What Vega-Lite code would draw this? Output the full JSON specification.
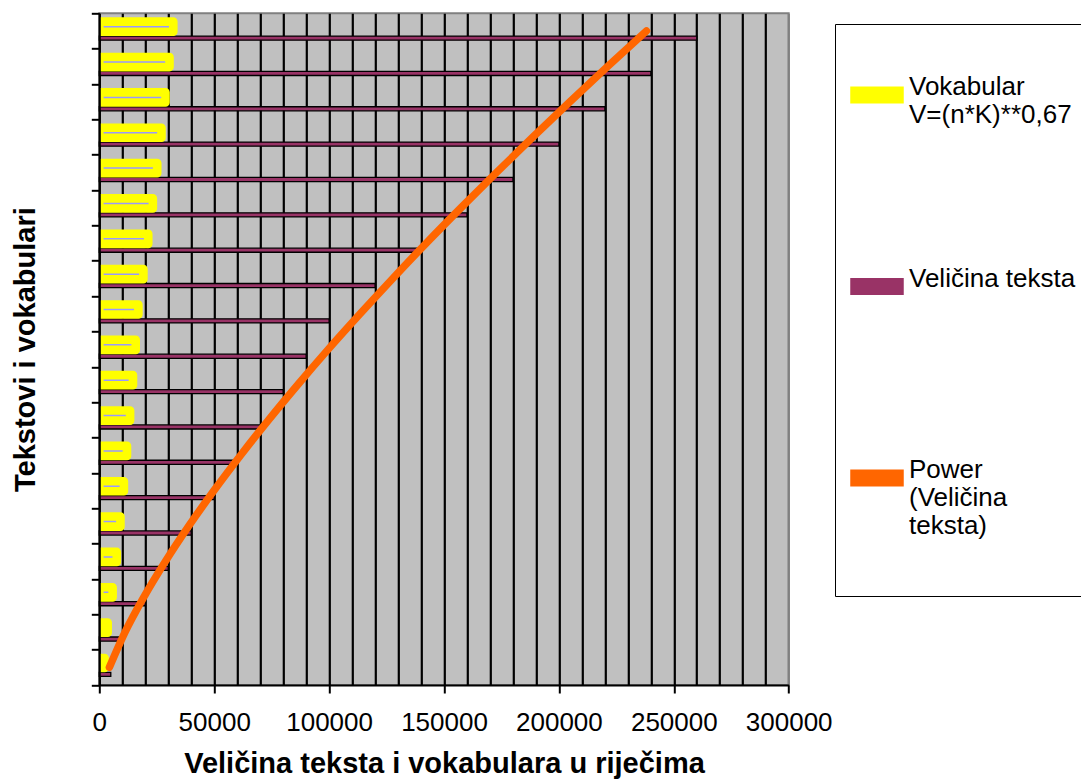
{
  "$schema": "https://vega.github.io/schema/vega-lite/v6.json",
  "width": 689.4,
  "height": 671.7,
  "autosize": {"type": "none"},
  "padding": {"left": 99.3, "top": 13.3, "right": 292.3, "bottom": 98},
  "background": "white",
  "config": {
    "view": {"fill": "#c0c0c0", "stroke": "#808080", "strokeWidth": 2},
    "font": "Liberation Sans"
  },
  "data": {
    "values": [
      {"r": 1, "tekst": 5000, "vokabular": 2300, "trend": 4400},
      {"r": 2, "tekst": 10000, "vokabular": 3650, "trend": 11250},
      {"r": 3, "tekst": 20000, "vokabular": 5800, "trend": 19500},
      {"r": 4, "tekst": 30000, "vokabular": 7600, "trend": 28800},
      {"r": 5, "tekst": 40000, "vokabular": 9200, "trend": 38950},
      {"r": 6, "tekst": 50000, "vokabular": 10700, "trend": 49900},
      {"r": 7, "tekst": 60000, "vokabular": 12050, "trend": 61500},
      {"r": 8, "tekst": 70000, "vokabular": 13400, "trend": 73700},
      {"r": 9, "tekst": 80000, "vokabular": 14650, "trend": 86450},
      {"r": 10, "tekst": 90000, "vokabular": 15850, "trend": 99700},
      {"r": 11, "tekst": 100000, "vokabular": 17000, "trend": 113500},
      {"r": 12, "tekst": 120000, "vokabular": 19200, "trend": 127700},
      {"r": 13, "tekst": 140000, "vokabular": 21300, "trend": 142300},
      {"r": 14, "tekst": 160000, "vokabular": 23300, "trend": 157400},
      {"r": 15, "tekst": 180000, "vokabular": 25200, "trend": 172900},
      {"r": 16, "tekst": 200000, "vokabular": 27050, "trend": 188700},
      {"r": 17, "tekst": 220000, "vokabular": 28800, "trend": 204800},
      {"r": 18, "tekst": 240000, "vokabular": 30550, "trend": 221300},
      {"r": 19, "tekst": 260000, "vokabular": 32200, "trend": 238100}
    ]
  },
  "layer": [
    {
      "mark": {"type": "bar", "height": 4.1, "yOffset": 7.1, "stroke": "black", "strokeWidth": 1.3},
      "encoding": {
        "y": {
          "field": "r", "type": "ordinal", "sort": "descending",
          "scale": {"type": "band", "paddingInner": 0, "paddingOuter": 0},
          "axis": {"title": "Tekstovi i vokabulari", "labels": false, "tickBand": "extent", "domainColor": "black", "domainWidth": 2, "tickColor": "black", "tickWidth": 2, "tickSize": 8, "titleFont": "Liberation Sans", "titleFontSize": 29, "titleFontWeight": "bold", "titleColor": "black", "titleBaseline": "alphabetic", "titleX": -65.3, "zindex": 1}
        },
        "x": {
          "field": "tekst", "type": "quantitative",
          "scale": {"domain": [0, 300000], "nice": false},
          "axis": {"values": [0, 10000, 20000, 30000, 40000, 50000, 60000, 70000, 80000, 90000, 100000, 110000, 120000, 130000, 140000, 150000, 160000, 170000, 180000, 190000, 200000, 210000, 220000, 230000, 240000, 250000, 260000, 270000, 280000, 290000, 300000], "tickCount": 40, "format": "d", "labelExpr": "datum.value % 50000 === 0 ? datum.label : ''", "labelOverlap": false, "labelFlush": false, "labelFont": "Liberation Sans", "labelFontSize": 26, "labelColor": "black", "labelPadding": 16, "grid": true, "gridColor": {"condition": {"test": "datum.value >= 300000", "value": "#808080"}, "value": "black"}, "gridWidth": 2.2, "domainColor": "black", "domainWidth": 2, "tickColor": "black", "tickWidth": 2, "tickSize": 8, "tickOpacity": {"condition": {"test": "datum.value % 50000 === 0", "value": 1}, "value": 0}, "title": "Veličina teksta i vokabulara u riječima", "titleFont": "Liberation Sans", "titleFontSize": 29, "titleFontWeight": "bold", "titleColor": "black", "titleBaseline": "alphabetic", "titleY": 87, "zindex": 0}
        },
        "color": {
          "datum": "Veličina teksta",
          "type": "nominal",
          "scale": {
            "domain": ["Vokabular", "Veličina teksta", "Power"],
            "range": ["#ffff00", "#993366", "#ff6600"]
          },
          "legend": {
            "orient": "none",
            "legendX": 735.7,
            "legendY": 10.7,
            "title": " ",
            "titleFontSize": 10,
            "titlePadding": 5,
            "padding": 29,
            "symbolOffset": -14,
            "strokeColor": "black",
            "fillColor": "white",
            "gridAlign": "all",
            "rowPadding": 75.5,
            "symbolSize": 2704,
            "symbolType": "M-1,-0.3H1V0.3H-1Z",
            "labelFont": "Liberation Sans",
            "labelFontSize": 26,
            "labelColor": "black",
            "labelLimit": 600,
            "labelOffset": 5,
            "labelBaseline": "alphabetic",
            "labelExpr": "datum.label === 'Vokabular' ? ['Vokabular', 'V=(n*K)**0,67'] : datum.label === 'Power' ? ['Power', '(Veličina', 'teksta)', ''] : datum.label"
          }
        }
      }
    },
    {
      "mark": {"type": "bar", "height": 10.1, "yOffset": -4.3, "fill": "#9999ff", "stroke": "#ffff00", "strokeWidth": 8.6, "strokeJoin": "round", "clip": true},
      "encoding": {
        "y": {
          "field": "r", "type": "ordinal", "sort": "descending",
          "scale": {"type": "band", "paddingInner": 0, "paddingOuter": 0},
          "axis": {"title": "Tekstovi i vokabulari", "labels": false, "tickBand": "extent", "domainColor": "black", "domainWidth": 2, "tickColor": "black", "tickWidth": 2, "tickSize": 8, "titleFont": "Liberation Sans", "titleFontSize": 29, "titleFontWeight": "bold", "titleColor": "black", "titleBaseline": "alphabetic", "titleX": -65.3, "zindex": 1}
        },
        "x": {
          "field": "vokabular", "type": "quantitative",
          "axis": {"values": [0, 10000, 20000, 30000, 40000, 50000, 60000, 70000, 80000, 90000, 100000, 110000, 120000, 130000, 140000, 150000, 160000, 170000, 180000, 190000, 200000, 210000, 220000, 230000, 240000, 250000, 260000, 270000, 280000, 290000, 300000], "tickCount": 40, "format": "d", "labelExpr": "datum.value % 50000 === 0 ? datum.label : ''", "labelOverlap": false, "labelFlush": false, "labelFont": "Liberation Sans", "labelFontSize": 26, "labelColor": "black", "labelPadding": 16, "grid": true, "gridColor": {"condition": {"test": "datum.value >= 300000", "value": "#808080"}, "value": "black"}, "gridWidth": 2.2, "domainColor": "black", "domainWidth": 2, "tickColor": "black", "tickWidth": 2, "tickSize": 8, "tickOpacity": {"condition": {"test": "datum.value % 50000 === 0", "value": 1}, "value": 0}, "title": "Veličina teksta i vokabulara u riječima", "titleFont": "Liberation Sans", "titleFontSize": 29, "titleFontWeight": "bold", "titleColor": "black", "titleBaseline": "alphabetic", "titleY": 87, "zindex": 0}
        }
      }
    },
    {
      "mark": {"type": "line", "strokeWidth": 7.5, "strokeCap": "round", "strokeJoin": "round", "interpolate": "monotone"},
      "encoding": {
        "y": {
          "field": "r", "type": "ordinal", "sort": "descending", "bandPosition": 0.5,
          "scale": {"type": "band", "paddingInner": 0, "paddingOuter": 0},
          "axis": {"title": "Tekstovi i vokabulari", "labels": false, "tickBand": "extent", "domainColor": "black", "domainWidth": 2, "tickColor": "black", "tickWidth": 2, "tickSize": 8, "titleFont": "Liberation Sans", "titleFontSize": 29, "titleFontWeight": "bold", "titleColor": "black", "titleBaseline": "alphabetic", "titleX": -65.3, "zindex": 1}
        },
        "x": {
          "field": "trend", "type": "quantitative",
          "axis": {"values": [0, 10000, 20000, 30000, 40000, 50000, 60000, 70000, 80000, 90000, 100000, 110000, 120000, 130000, 140000, 150000, 160000, 170000, 180000, 190000, 200000, 210000, 220000, 230000, 240000, 250000, 260000, 270000, 280000, 290000, 300000], "tickCount": 40, "format": "d", "labelExpr": "datum.value % 50000 === 0 ? datum.label : ''", "labelOverlap": false, "labelFlush": false, "labelFont": "Liberation Sans", "labelFontSize": 26, "labelColor": "black", "labelPadding": 16, "grid": true, "gridColor": {"condition": {"test": "datum.value >= 300000", "value": "#808080"}, "value": "black"}, "gridWidth": 2.2, "domainColor": "black", "domainWidth": 2, "tickColor": "black", "tickWidth": 2, "tickSize": 8, "tickOpacity": {"condition": {"test": "datum.value % 50000 === 0", "value": 1}, "value": 0}, "title": "Veličina teksta i vokabulara u riječima", "titleFont": "Liberation Sans", "titleFontSize": 29, "titleFontWeight": "bold", "titleColor": "black", "titleBaseline": "alphabetic", "titleY": 87, "zindex": 0}
        },
        "order": {"field": "r", "type": "quantitative"},
        "color": {"datum": "Power", "type": "nominal"}
      }
    }
  ]
}
